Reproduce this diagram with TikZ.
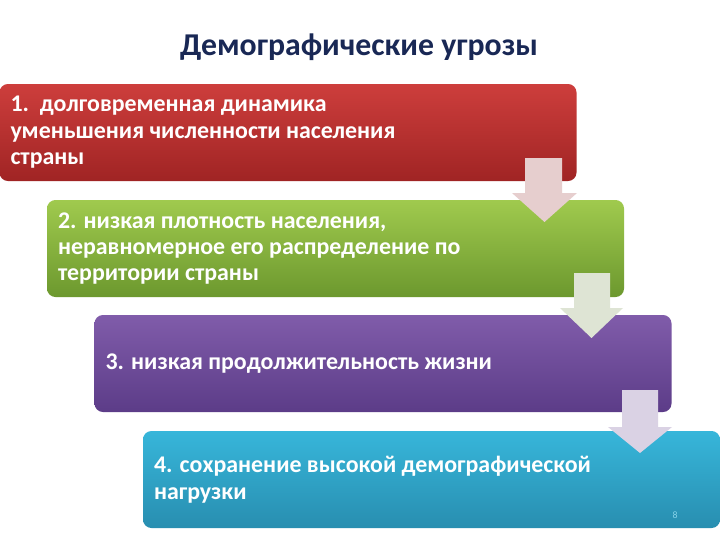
\documentclass[tikz,border=0pt]{standalone}
\usepackage{fontspec}
\setmainfont{Carlito}
\definecolor{titleblue}{RGB}{25,40,85}
\definecolor{redtop}{RGB}{205,62,60}
\definecolor{redbot}{RGB}{160,36,36}
\definecolor{greentop}{RGB}{160,202,78}
\definecolor{greenbot}{RGB}{108,152,46}
\definecolor{violettop}{RGB}{128,92,170}
\definecolor{violetbot}{RGB}{92,60,136}
\definecolor{cyantop}{RGB}{55,182,218}
\definecolor{cyanbot}{RGB}{40,142,176}
\definecolor{arrowred}{RGB}{230,206,206}
\definecolor{arrowgreen}{RGB}{222,228,212}
\definecolor{arrowviolet}{RGB}{218,210,228}
\tikzset{
  threatbox/.style={rectangle, rounded corners=6pt, minimum width=577*0.025cm,
    minimum height=97*0.025cm, text width=555*0.025cm, align=flush left,
    inner xsep=11*0.025cm, text=white,
    font=\fontsize{17}{18.8}\selectfont\bfseries}
}
\begin{document}
\begin{tikzpicture}[x=0.025cm, y=-0.025cm]
	\useasboundingbox (0,0) rectangle (720,540);
	\clip (0,0) rectangle (720,540);
	\fill[white] (0,0) rectangle (720,540);

	\node (title) at (359,47) [text=titleblue, font=\fontsize{22.6}{26}\selectfont\bfseries] {Демографические угрозы};

	\node (b1) at (288,132.5) [threatbox, top color=redtop, bottom color=redbot] {1.\ \ долговременная динамика\\ уменьшения численности населения\\ страны};
	\node (b2) at (335.5,248.5) [threatbox, top color=greentop, bottom color=greenbot] {2. низкая плотность населения,\\ неравномерное его распределение по\\ территории страны};
	\node (b3) at (383,363.5) [threatbox, top color=violettop, bottom color=violetbot] {3. низкая продолжительность жизни};
	\node (b4) at (431.5,479.5) [threatbox, top color=cyantop, bottom color=cyanbot] {4. сохранение высокой демографической\\ нагрузки};

	\fill[arrowred] (525,158) -- (562,158) -- (562,193) -- (577,193) -- (544.5,222) -- (512,193) -- (525,193) -- cycle;
	\fill[arrowgreen] (574,273) -- (610,273) -- (610,308) -- (623,308) -- (591.5,338) -- (560,308) -- (574,308) -- cycle;
	\fill[arrowviolet] (622,390) -- (658,390) -- (658,427) -- (672,427) -- (640,453) -- (608,427) -- (622,427) -- cycle;

	\node (page) at (675,515) [text=cyantop!60!white, font=\fontsize{7}{8}\selectfont] {8};
\end{tikzpicture}
\end{document}
